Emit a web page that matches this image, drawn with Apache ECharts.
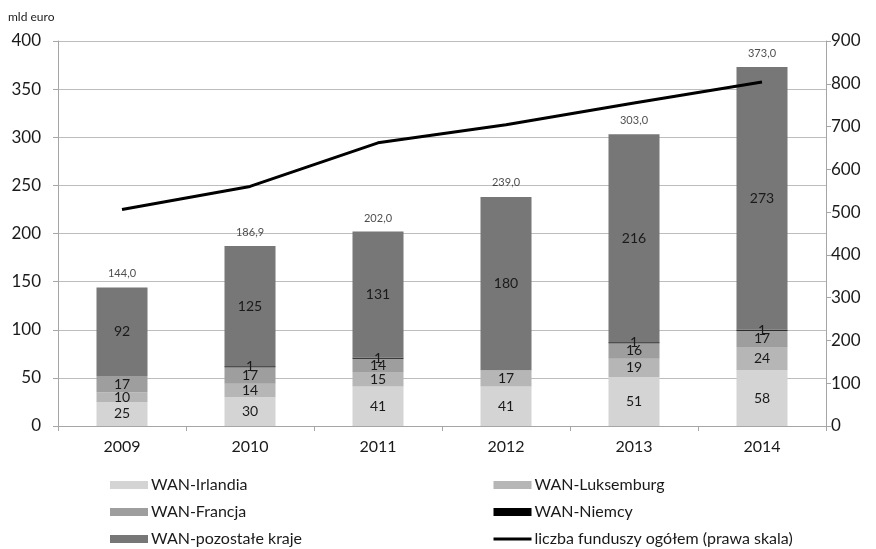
<!DOCTYPE html>
<html><head><meta charset="utf-8">
<script src="https://cdn.jsdelivr.net/npm/echarts@6/dist/echarts.min.js"></script>
<style>html,body{margin:0;padding:0;background:#fff}#c{width:876px;height:549px}</style>
</head><body><div id="c"></div>
<script>
const years = ['2009','2010','2011','2012','2013','2014'];
const irlandia = [25, 30, 41, 41, 51, 58];
const luksemburg = [10, 14, 15, 17, 19, 24];
const francja = [17, 17, 14, null, 16, 17];
const niemcy = [null, 1, 1, null, 1, 1];
const pozostale = [92, 125, 131, 180, 216, 273];
const totals = [144.0, 186.9, 202.0, 239.0, 303.0, 373.0];
const liczbaFunduszy = [506, 560, 662, 704, 755, 804];
const leftTicks = [0, 50, 100, 150, 200, 250, 300, 350, 400];
const rightTicks = [0, 100, 200, 300, 400, 500, 600, 700, 800, 900];

const FONT = 'Lato';
const chart = echarts.init(document.getElementById('c'), null, {renderer: 'canvas'});
const segLabel = {show: true, position: 'inside', color: '#1a1a1a', fontSize: 14, fontFamily: FONT};
function bar(name, data, color, extra) {
  return Object.assign({
    name, type: 'bar', stack: 'wan', data, barWidth: 51,
    itemStyle: {color},
    label: segLabel,
    emphasis: {disabled: true}
  }, extra || {});
}
const legendText = {fontSize: 16, color: '#1a1a1a', fontFamily: FONT, padding: [0, 0, 0, -2]};
chart.setOption({
  animation: false,
  textStyle: {fontFamily: FONT},
  grid: {left: 58, right: 50, top: 41, bottom: 123},
  graphic: [{type: 'text', left: 8, top: 11, style: {text: 'mld euro', fontSize: 12, fill: '#222', fontFamily: FONT}}],
  legend: [
    {data: ['WAN-Irlandia', 'WAN-Francja', 'WAN-pozostałe kraje'], orient: 'vertical', left: 105, top: 472, height: 80,
     itemWidth: 38, itemHeight: 8, itemGap: 11, textStyle: legendText, icon: 'rect'},
    {data: [{name: 'WAN-Luksemburg', icon: 'rect'}, {name: 'WAN-Niemcy', icon: 'rect'},
            {name: 'liczba funduszy ogółem (prawa skala)', itemStyle: {opacity: 0}, lineStyle: {width: 3, color: '#000'}}],
     orient: 'vertical', left: 487, top: 472, height: 80,
     itemWidth: 38, itemHeight: 8, itemGap: 11, textStyle: legendText}
  ],
  xAxis: {
    type: 'category', data: years,
    axisLine: {lineStyle: {color: '#a6a6a6', width: 1}},
    axisTick: {show: true, alignWithLabel: false, length: 5, lineStyle: {color: '#a6a6a6'}},
    axisLabel: {fontSize: 16, color: '#1a1a1a', margin: 13, fontFamily: FONT}
  },
  yAxis: [
    {type: 'value', min: leftTicks[0], max: leftTicks[leftTicks.length - 1], interval: 50,
     axisLine: {show: true, lineStyle: {color: '#a6a6a6'}},
     axisTick: {show: true, length: 5, lineStyle: {color: '#a6a6a6'}},
     splitLine: {lineStyle: {color: '#bdbdbd', width: 1}},
     axisLabel: {fontSize: 17, color: '#1a1a1a', margin: 17, fontFamily: FONT}},
    {type: 'value', min: rightTicks[0], max: rightTicks[rightTicks.length - 1], interval: 100, position: 'right',
     axisLine: {show: true, lineStyle: {color: '#a6a6a6'}},
     axisTick: {show: true, length: 5, lineStyle: {color: '#a6a6a6'}},
     splitLine: {show: false},
     axisLabel: {fontSize: 17, color: '#1a1a1a', margin: 5, fontFamily: FONT}}
  ],
  series: [
    bar('WAN-Irlandia', irlandia, '#d4d4d4'),
    bar('WAN-Luksemburg', luksemburg, '#b6b6b6'),
    bar('WAN-Francja', francja, '#9e9e9e'),
    bar('WAN-Niemcy', niemcy, '#000000'),
    bar('WAN-pozostałe kraje', pozostale, '#777777'),
    {name: 'sumy', type: 'scatter', data: totals, symbolSize: 0, silent: true,
     label: {show: true, position: 'top', distance: 8, fontSize: 11, color: '#222', fontFamily: FONT,
             formatter: p => p.value.toFixed(1).replace('.', ',')}},
    {name: 'liczba funduszy ogółem (prawa skala)', type: 'line', yAxisIndex: 1, data: liczbaFunduszy,
     symbol: 'none', lineStyle: {color: '#000', width: 3}, itemStyle: {color: '#000'}, z: 5}
  ]
});
</script></body></html>
